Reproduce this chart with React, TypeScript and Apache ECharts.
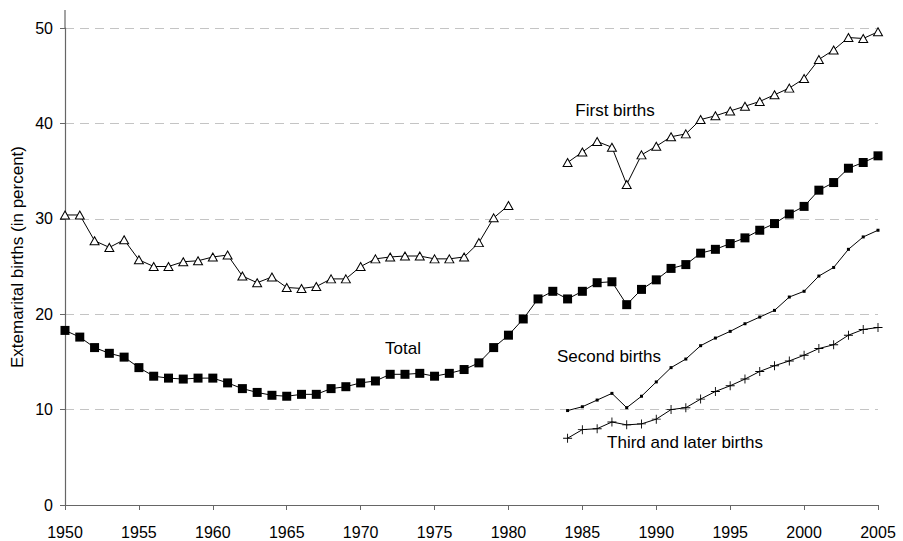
import React, { useEffect, useRef } from "react";
import * as echarts from "echarts";

const years: number[] = [];
for (let y = 1950; y <= 2005; y++) years.push(y);

const totalValues = [
  18.3, 17.6, 16.5, 15.9, 15.5, 14.4, 13.5, 13.3, 13.2, 13.3,
  13.3, 12.8, 12.2, 11.8, 11.5, 11.4, 11.6, 11.6, 12.2, 12.4,
  12.8, 13.0, 13.7, 13.7, 13.8, 13.5, 13.8, 14.2, 14.9, 16.5,
  17.8, 19.5, 21.6, 22.4, 21.6, 22.4, 23.3, 23.4, 21.0, 22.6,
  23.6, 24.8, 25.2, 26.4, 26.8, 27.4, 28.0, 28.8, 29.5, 30.5,
  31.3, 33.0, 33.8, 35.3, 35.9, 36.6,
];

const firstYearsEarly = years.filter((y) => y <= 1980);
const firstBirthsEarly = [
  30.4, 30.4, 27.7, 27.0, 27.8, 25.7, 25.0, 25.0, 25.5, 25.6,
  26.0, 26.2, 24.0, 23.3, 23.9, 22.8, 22.7, 22.9, 23.7, 23.7,
  25.0, 25.8, 26.0, 26.1, 26.1, 25.8, 25.8, 26.0, 27.5, 30.1,
  31.4,
];

const laterYears = years.filter((y) => y >= 1984);
const firstBirthsLate = [
  35.9, 37.0, 38.1, 37.5, 33.6, 36.7, 37.6, 38.6, 38.9, 40.4,
  40.8, 41.3, 41.8, 42.3, 43.0, 43.7, 44.7, 46.7, 47.7, 49.0,
  48.9, 49.6,
];

const secondBirths = [
  9.9, 10.3, 11.0, 11.7, 10.2, 11.4, 12.9, 14.4, 15.3, 16.7,
  17.5, 18.2, 19.0, 19.7, 20.4, 21.8, 22.4, 24.0, 24.9, 26.8,
  28.1, 28.8,
];

const thirdBirths = [
  7.0, 7.9, 8.0, 8.7, 8.4, 8.5, 9.0, 10.0, 10.2, 11.1,
  11.9, 12.5, 13.2, 14.0, 14.6, 15.1, 15.7, 16.4, 16.8, 17.8,
  18.4, 18.6,
];

const xTicks = { min: 1950, max: 2005, interval: 5 };
const yTicks = { min: 0, max: 50, interval: 10 };

const FONT = "'Liberation Sans', Arial, sans-serif";

export default function App() {
  const ref = useRef<HTMLDivElement>(null);
  useEffect(() => {
    if (!ref.current) return;
    const chart = echarts.init(ref.current, null, { renderer: "svg" });

    const firstData: (number | null)[][] = [];
    firstYearsEarly.forEach((y, i) => firstData.push([y, firstBirthsEarly[i]]));
    firstData.push([1982, null] as any);
    laterYears.forEach((y, i) => firstData.push([y, firstBirthsLate[i]]));

    const lineStyle = { color: "#000", width: 1 };

    chart.setOption({
      animation: false,
      backgroundColor: "#fff",
      grid: { left: 65, right: 25, top: 28, bottom: 36 },
      xAxis: {
        type: "value",
        min: xTicks.min,
        max: xTicks.max,
        interval: xTicks.interval,
        axisLine: { show: true, lineStyle: { color: "#666", width: 1.2 } },
        axisTick: { show: true, length: 5, lineStyle: { color: "#666" } },
        axisLabel: { color: "#000", fontSize: 16, fontFamily: FONT, margin: 19, formatter: (v: number) => String(v) },
        splitLine: { show: false },
      },
      yAxis: {
        type: "value",
        min: yTicks.min,
        max: yTicks.max,
        interval: yTicks.interval,
        axisLine: { show: true, lineStyle: { color: "#666", width: 1.2 } },
        axisTick: { show: true, length: 5, lineStyle: { color: "#666" } },
        axisLabel: { color: "#000", fontSize: 16, fontFamily: FONT, margin: 12 },
        splitLine: { show: true, lineStyle: { color: "#c4c4c4", type: [9, 6], width: 1 } },
      },
      series: [
        {
          name: "Total",
          type: "line",
          data: years.map((y, i) => [y, totalValues[i]]),
          symbol: "rect",
          symbolSize: 9,
          itemStyle: { color: "#000" },
          lineStyle,
          z: 3,
        },
        {
          name: "First births",
          type: "line",
          data: firstData,
          connectNulls: false,
          symbol: "triangle",
          symbolSize: [9, 8],
          showAllSymbol: true,
          itemStyle: { color: "#fff", borderColor: "#000", borderWidth: 1 },
          lineStyle,
          z: 3,
        },
        {
          name: "Second births",
          type: "line",
          data: laterYears.map((y, i) => [y, secondBirths[i]]),
          symbol: "rect",
          symbolSize: 3,
          itemStyle: { color: "#000" },
          lineStyle,
          z: 3,
        },
        {
          name: "Third and later births",
          type: "line",
          data: laterYears.map((y, i) => [y, thirdBirths[i]]),
          symbol: "path://M4.5,0h1v10h-1z M0,4.5h10v1h-10z",
          symbolSize: 9,
          itemStyle: { color: "#000" },
          lineStyle,
          z: 3,
        },
      ],
      graphic: [
        { type: "line", shape: { x1: 65, y1: 10, x2: 65, y2: 28 }, style: { stroke: "#666", lineWidth: 1.2 } },
        {
          type: "text",
          x: 17.5,
          y: 257,
          rotation: Math.PI / 2,
          style: { text: "Extemarital births (in percent)", fontSize: 17, fontFamily: FONT, fill: "#000", align: "center", verticalAlign: "middle" },
        },
        { type: "text", x: 615, y: 110, style: { text: "First births", fontSize: 17, fontFamily: FONT, fill: "#000", align: "center", verticalAlign: "middle" } },
        { type: "text", x: 403, y: 348, style: { text: "Total", fontSize: 17, fontFamily: FONT, fill: "#000", align: "center", verticalAlign: "middle" } },
        { type: "text", x: 609, y: 356, style: { text: "Second births", fontSize: 17, fontFamily: FONT, fill: "#000", align: "center", verticalAlign: "middle" } },
        { type: "text", x: 685, y: 442, style: { text: "Third and later births", fontSize: 17, fontFamily: FONT, fill: "#000", align: "center", verticalAlign: "middle" } },
      ],
    });
    return () => chart.dispose();
  }, []);

  return (
    <div
      ref={ref}
      style={{ position: "absolute", left: 0, top: 0, width: 903, height: 541 }}
    />
  );
}
